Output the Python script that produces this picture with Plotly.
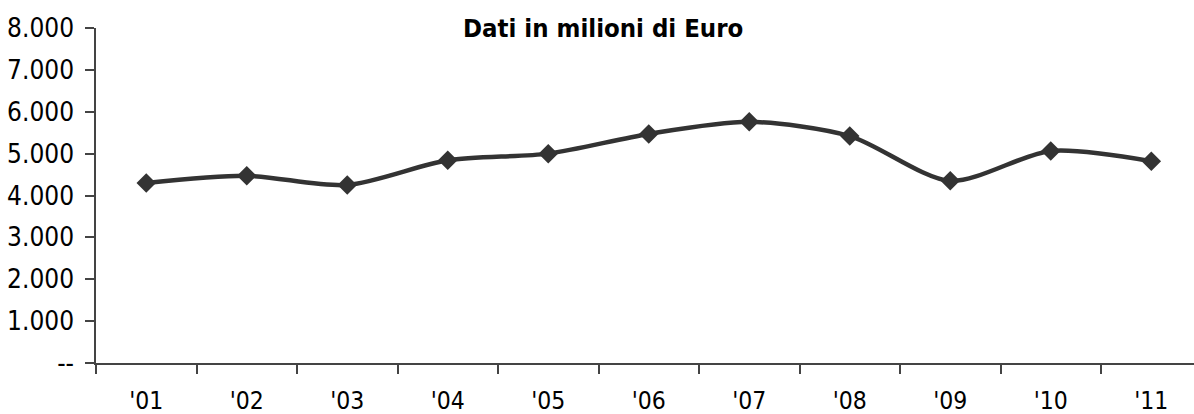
import plotly.graph_objects as go

categories = ["'01", "'02", "'03", "'04", "'05", "'06", "'07", "'08", "'09", "'10", "'11"]
values = [4300, 4470, 4250, 4840, 5000, 5470, 5760, 5420, 4350, 5065, 4820]
y_tickvals = [0, 1000, 2000, 3000, 4000, 5000, 6000, 7000, 8000]
y_ticktext = ["--", "1.000", "2.000", "3.000", "4.000", "5.000", "6.000", "7.000", "8.000"]
title_text = "Dati in milioni di Euro"

FONT = "Tahoma, 'DejaVu Sans Condensed', 'Liberation Sans', sans-serif"
COL = "#333333"

fig = go.Figure()
fig.add_trace(go.Scatter(
    x=categories, y=values, mode="lines+markers",
    line=dict(color=COL, width=4.5, shape="spline", smoothing=0.8),
    marker=dict(symbol="diamond", size=15, color=COL),
    showlegend=False, hoverinfo="skip",
))

fig.update_layout(
    width=1194, height=414,
    margin=dict(l=96, r=0, t=28, b=51),
    paper_bgcolor="white", plot_bgcolor="white",
    font=dict(family=FONT, size=26, color="#000000"),
    annotations=[dict(
        text="<b>" + title_text + "</b>",
        x=(603 - 96) / 1098, xref="paper", xanchor="center",
        y=1.0, yref="paper", yanchor="middle",
        showarrow=False, font=dict(family=FONT, size=25.5, color="#000000"),
    )],
)

fig.update_xaxes(
    type="category", range=[-0.5, 10.425], automargin=False,
    showline=True, linecolor="#444444", linewidth=1.5,
    ticks="outside", tickson="boundaries", ticklen=9, tickcolor="#444444", tickwidth=1.5,
    showgrid=False, zeroline=False,
    tickfont=dict(family=FONT, size=24.5, color="#000000"),
    ticklabelstandoff=15,
)
fig.update_yaxes(
    range=[0, 8000], tickvals=y_tickvals, ticktext=y_ticktext, automargin=False,
    showline=True, linecolor="#444444", linewidth=1.5,
    ticks="outside", ticklen=9, tickcolor="#444444", tickwidth=1.5,
    showgrid=False, zeroline=False,
    tickfont=dict(family=FONT, size=26, color="#000000"),
    ticklabelstandoff=6,
)

fig.write_html("out.html", config={"displayModeBar": False},
               post_script="document.body.style.margin='0';")
